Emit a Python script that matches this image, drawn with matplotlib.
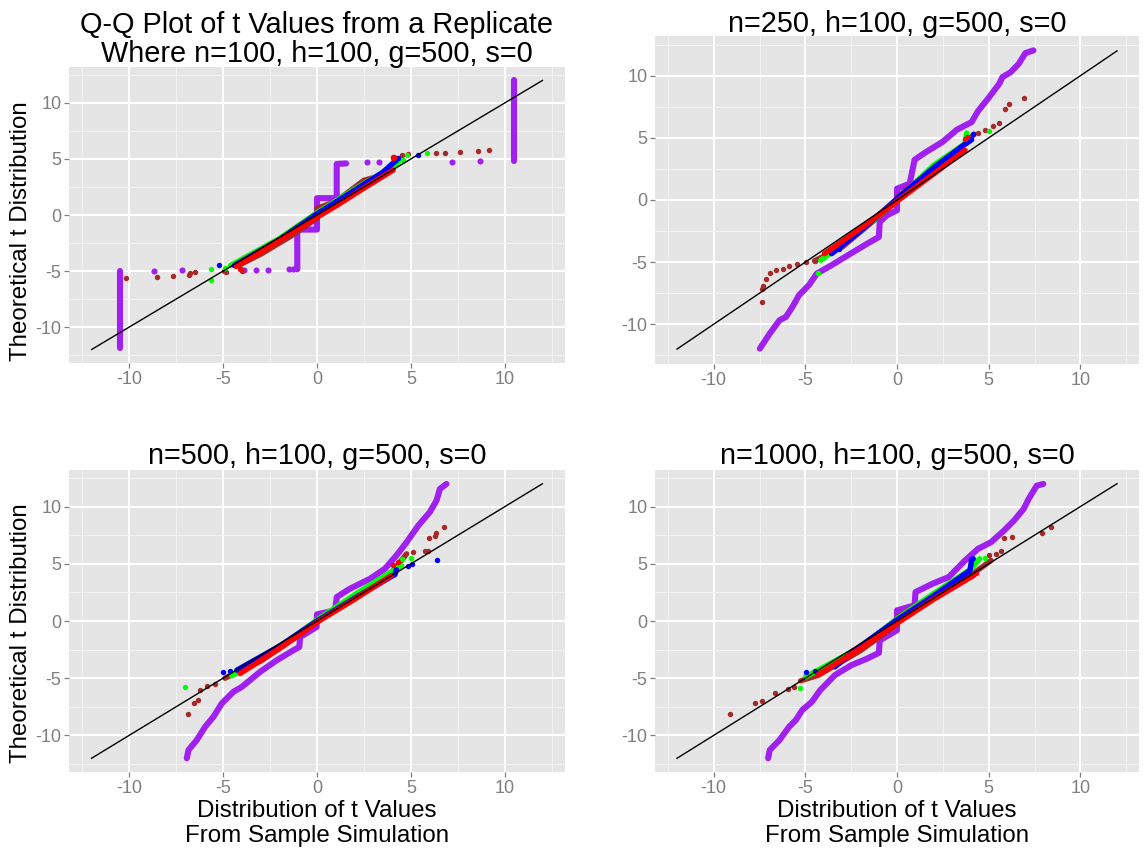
import matplotlib
matplotlib.use("Agg")
import matplotlib.pyplot as plt

plt.rcParams['font.family'] = ['Liberation Sans', 'DejaVu Sans']

W, H = 1146, 850

# ---------------- data ----------------
TITLES = [["Q-Q Plot of t Values from a Replicate", "Where n=100, h=100, g=500, s=0"],
          ["n=250, h=100, g=500, s=0"],
          ["n=500, h=100, g=500, s=0"],
          ["n=1000, h=100, g=500, s=0"]]
XLABEL = ["Distribution of t Values", "From Sample Simulation"]
YLABEL = "Theoretical t Distribution"
TICKS = [-10, -5, 0, 5, 10]
DIAG = [-12, 12]

# panel 1 (n=100)
P1_PURPLE_LINE = [(-10.46, -11.9), (-10.46, -4.99), None,
                  (-1.05, -4.84), (-1.05, -1.3), (0.0, -1.3), (0.0, 1.5), (1.05, 1.5),
                  (1.05, 4.55), (1.55, 4.6), None,
                  (10.48, 4.84), (10.48, 12.0)]
P1_PURPLE_PTS = [(-8.65, -4.97), (-7.16, -4.9), (-3.87, -4.9), (-3.26, -4.9),
                 (-2.59, -4.9), (-1.47, -4.84), (-1.3, -4.84), (2.64, 4.69),
                 (3.3, 4.69), (7.2, 4.75), (8.7, 4.84)]
P1_BROWN_LINE = [(-4.3, -4.6), (-3.0, -3.5), (-1.5, -2.0), (0.0, -0.3), (0.0, 0.6),
                 (1.0, 1.2), (2.5, 3.1), (3.4, 3.5), (4.0, 4.0)]
P1_BROWN_PTS = [(-10.18, -5.63), (-8.53, -5.55), (-7.64, -5.4), (-6.83, -5.34),
                (-6.76, -5.13), (-6.49, -5.07), (-4.84, -5.04), (-4.95, -4.98),
                (-4.0, -4.99), (-4.1, -4.7), (4.06, 5.19), (4.5, 5.34), (4.86, 5.4),
                (6.33, 5.49), (6.8, 5.55), (7.6, 5.66), (8.55, 5.69), (9.15, 5.78)]
P1_GREEN_LINE = [(-4.6, -4.5), (-2.0, -2.1), (0.0, 0.2), (2.0, 2.3), (4.2, 4.5), (4.4, 4.9)]
P1_GREEN_PTS = [(-5.66, -5.81), (-5.66, -4.78), (-4.89, -4.75), (4.6, 4.9),
                (4.77, 5.34), (5.83, 5.55)]
P1_BLUE_LINE = [(-4.4, -4.5), (-2.0, -2.2), (0.0, 0.1), (2.0, 2.2), (3.5, 3.8), (4.3, 5.0)]
P1_BLUE_PTS = [(-5.23, -4.42), (4.33, 5.04), (5.39, 5.34)]
P1_RED_LINE = [(-4.3, -4.5), (-3.0, -3.3), (-1.0, -1.2), (0.0, -0.2), (1.0, 0.8),
               (2.5, 2.4), (4.05, 4.0)]
P1_RED_PTS = [(-4.1, -4.78), (4.06, 5.04), (4.1, 5.2)]

# panel 2 (n=250)
P2_PURPLE_LINE = [(-7.48, -11.96), (-6.94, -10.75), (-6.41, -9.68), (-6.06, -9.41),
                  (-5.7, -8.6), (-5.35, -7.67), (-4.81, -6.86), (-4.37, -5.92),
                  (-3.57, -5.25), (-2.68, -4.45), (-1.62, -3.51), (-0.99, -2.98),
                  (-0.94, -1.77), (-0.55, -1.23), (0.0, -0.83), (0.0, 0.91),
                  (0.69, 1.31), (0.96, 3.24), (1.58, 3.86), (2.47, 4.66),
                  (3.27, 5.66), (4.07, 6.27), (4.42, 7.16), (4.96, 8.15),
                  (5.58, 9.36), (5.75, 9.89), (6.2, 10.29), (6.64, 10.96),
                  (7.0, 11.82), (7.44, 12.04)]
P2_PURPLE_PTS = []
P2_BROWN_LINE = [(-4.5, -4.9), (-3.0, -3.8), (0.0, -0.1), (0.0, 0.2), (2.0, 2.6),
                 (3.7, 4.5), (4.2, 5.3)]
P2_BROWN_PTS = [(-7.39, -8.2), (-7.39, -7.13), (-7.3, -6.94), (-7.16, -6.33),
                (-6.94, -5.87), (-6.59, -5.66), (-6.23, -5.52), (-5.88, -5.34),
                (-5.44, -5.17), (-4.99, -4.99), (-4.46, -4.91), (4.42, 5.39),
                (4.78, 5.6), (5.22, 5.92), (5.58, 6.19), (5.88, 7.35), (6.11, 7.75),
                (6.95, 8.23)]
P2_GREEN_LINE = [(-4.16, -4.85), (-2.0, -2.5), (0.0, 0.0), (2.0, 2.8), (3.71, 4.53), (3.8, 5.39)]
P2_GREEN_PTS = [(-4.33, -5.84), (5.04, 5.55)]
P2_BLUE_LINE = [(-3.57, -4.32), (-2.0, -2.5), (0.0, 0.1), (2.0, 2.6), (3.62, 4.4), (4.07, 4.85)]
P2_BLUE_PTS = [(-3.18, -3.91), (4.16, 5.34)]
P2_RED_LINE = [(-3.96, -4.32), (-2.0, -2.3), (0.0, -0.1), (2.0, 2.1), (3.71, 4.0)]
P2_RED_PTS = [(3.71, 4.93), (3.8, 5.1)]

# panel 3 (n=500)
P3_PURPLE_LINE = [(-6.93, -12.0), (-6.84, -11.28), (-6.4, -10.41), (-5.95, -9.24),
                  (-5.51, -8.37), (-5.07, -7.21), (-4.45, -6.19), (-4.0, -5.76),
                  (-3.03, -4.45), (-2.14, -3.43), (-1.26, -2.56), (-0.94, -2.27),
                  (-0.9, -1.4), (-0.02, -0.52), (0.0, 0.58), (0.96, 0.93),
                  (1.05, 2.09), (1.75, 2.82), (2.82, 3.69), (3.61, 4.56),
                  (4.23, 5.73), (4.77, 6.89), (5.39, 8.34), (6.0, 9.51),
                  (6.36, 10.52), (6.54, 11.54), (6.89, 11.98)]
P3_PURPLE_PTS = []
P3_BROWN_LINE = [(-4.9, -5.0), (-3.0, -3.5), (-1.0, -1.3), (0.0, -0.1), (2.0, 2.2),
                 (4.0, 4.3), (4.77, 5.87)]
P3_BROWN_PTS = [(-6.87, -8.17), (-6.57, -7.21), (-6.31, -6.92), (-6.25, -6.05),
                (-5.86, -5.7), (-5.42, -5.47), (5.12, 6.02), (5.74, 6.16),
                (5.92, 6.16), (5.97, 7.27), (6.27, 7.41), (6.36, 7.7), (6.75, 8.2)]
P3_GREEN_LINE = [(-4.53, -4.8), (-2.0, -2.3), (0.0, 0.1), (2.0, 2.3), (4.5, 4.85)]
P3_GREEN_PTS = [(-7.02, -5.81), (4.5, 5.44), (4.98, 5.52)]
P3_BLUE_LINE = [(-4.27, -4.3), (-2.0, -2.2), (0.0, 0.0), (2.0, 2.0), (4.15, 4.07), (4.23, 4.48)]
P3_BLUE_PTS = [(-5.01, -4.45), (-4.62, -4.39), (4.85, 4.85), (5.08, 5.0), (6.39, 5.35)]
P3_RED_LINE = [(-4.09, -4.59), (-2.0, -2.4), (0.0, -0.1), (2.0, 1.9), (3.97, 3.98)]
P3_RED_PTS = [(4.06, 4.91), (4.32, 5.2)]

# panel 4 (n=1000)
P4_PURPLE_LINE = [(-7.03, -12.0), (-6.94, -11.28), (-6.41, -10.41), (-5.88, -9.24),
                  (-5.52, -8.66), (-5.17, -7.79), (-4.64, -7.06), (-4.19, -6.05),
                  (-3.39, -4.74), (-2.5, -3.87), (-1.62, -3.28), (-0.99, -2.79),
                  (-0.94, -1.69), (0.0, -0.81), (0.0, 0.93), (0.96, 1.37),
                  (1.01, 2.53), (1.94, 3.26), (2.82, 3.84), (3.71, 5.29),
                  (4.42, 6.31), (5.13, 6.89), (5.84, 7.91), (6.38, 8.78),
                  (6.91, 9.8), (7.18, 10.67), (7.62, 11.83), (7.98, 11.98)]
P4_PURPLE_PTS = []
P4_BROWN_LINE = [(-5.26, -5.23), (-4.3, -4.75), (-2.0, -2.6), (0.0, -0.3), (0.0, 0.3),
                 (2.0, 2.3), (4.2, 4.2), (5.13, 5.29)]
P4_BROWN_PTS = [(-9.13, -8.17), (-7.74, -7.21), (-7.37, -6.98), (-6.68, -6.28),
                (-5.97, -5.96), (-5.61, -5.76), (5.04, 5.73), (5.4, 5.87),
                (5.67, 6.16), (5.84, 7.27), (6.25, 7.38), (7.89, 7.7), (8.38, 8.2)]
P4_GREEN_LINE = [(-4.99, -4.88), (-2.0, -2.3), (0.0, 0.2), (2.0, 2.4), (4.0, 4.5), (4.51, 5.44)]
P4_GREEN_PTS = [(-5.31, -5.84), (4.78, 5.52)]
P4_BLUE_LINE = [(-3.39, -4.01), (-2.0, -2.2), (0.0, 0.1), (2.0, 2.2), (3.98, 4.42),
                (4.07, 5.35), (4.16, 5.44)]
P4_BLUE_PTS = [(-4.99, -4.45), (-4.46, -4.39)]
P4_RED_LINE = [(-4.3, -4.7), (-2.0, -2.4), (0.0, -0.2), (2.0, 1.9), (4.2, 4.0)]
P4_RED_PTS = [(4.3, 4.2)]

COLORS = {"purple": "#A020F0", "brown": "#A52A2A", "green": "#00FF00",
          "blue": "#0000FF", "red": "#FF0000"}

PANELS = [
    [("purple", P1_PURPLE_LINE, P1_PURPLE_PTS), ("brown", P1_BROWN_LINE, P1_BROWN_PTS),
     ("green", P1_GREEN_LINE, P1_GREEN_PTS), ("blue", P1_BLUE_LINE, P1_BLUE_PTS),
     ("red", P1_RED_LINE, P1_RED_PTS)],
    [("purple", P2_PURPLE_LINE, P2_PURPLE_PTS), ("brown", P2_BROWN_LINE, P2_BROWN_PTS),
     ("green", P2_GREEN_LINE, P2_GREEN_PTS), ("blue", P2_BLUE_LINE, P2_BLUE_PTS),
     ("red", P2_RED_LINE, P2_RED_PTS)],
    [("purple", P3_PURPLE_LINE, P3_PURPLE_PTS), ("brown", P3_BROWN_LINE, P3_BROWN_PTS),
     ("green", P3_GREEN_LINE, P3_GREEN_PTS), ("blue", P3_BLUE_LINE, P3_BLUE_PTS),
     ("red", P3_RED_LINE, P3_RED_PTS)],
    [("purple", P4_PURPLE_LINE, P4_PURPLE_PTS), ("brown", P4_BROWN_LINE, P4_BROWN_PTS),
     ("green", P4_GREEN_LINE, P4_GREEN_PTS), ("blue", P4_BLUE_LINE, P4_BLUE_PTS),
     ("red", P4_RED_LINE, P4_RED_PTS)],
]

# ---------------- layout (pixels from top-left) ----------------
RECTS = [(69, 67, 565, 363), (655, 36, 1139, 364), (69, 470, 565, 772), (655, 470, 1139, 772)]
TITLE_BASE = [[33, 62], [31.5], [464], [464]]
XLAB_BASE = [817, 842]
YLAB_CENTER = {0: 231, 2: 633}


def rect(l, t, r, b):
    return [l / W, 1 - b / H, (r - l) / W, (b - t) / H]


def split(pts):
    segs, cur = [], []
    for p in pts:
        if p is None:
            if cur:
                segs.append(cur)
            cur = []
        else:
            cur.append(p)
    if cur:
        segs.append(cur)
    return segs


fig = plt.figure(figsize=(W / 100, H / 100), dpi=100)
GREY = "#7F7F7F"
for i, (r, series) in enumerate(zip(RECTS, PANELS)):
    ax = fig.add_axes(rect(*r))
    ax.set_facecolor("#E5E5E5")
    ax.set_xlim(-13.2, 13.2)
    ax.set_ylim(-13.2, 13.2)
    for s in ax.spines.values():
        s.set_visible(False)
    ax.set_xticks(TICKS)
    ax.set_yticks(TICKS)
    ax.set_xticklabels([str(t) for t in TICKS])
    ax.set_yticklabels([str(t) for t in TICKS])
    ax.set_xticks([-12.5, -7.5, -2.5, 2.5, 7.5, 12.5], minor=True)
    ax.set_yticks([-12.5, -7.5, -2.5, 2.5, 7.5, 12.5], minor=True)
    ax.grid(which="major", color="white", lw=1.45)
    ax.grid(which="minor", color="#F2F2F2", lw=0.75)
    ax.set_axisbelow(True)
    ax.tick_params(which="major", length=3.3, width=0.9, color=GREY, labelcolor=GREY,
                   labelsize=13, pad=2.2)
    ax.tick_params(which="minor", length=0)
    for name, line, pts in series:
        c = COLORS[name]
        lw = 4.4 if name == "purple" else 3.9
        for seg in split(line):
            ax.plot([p[0] for p in seg], [p[1] for p in seg], color=c, lw=lw,
                    solid_capstyle="round", solid_joinstyle="round", zorder=3)
        if pts:
            ax.scatter([p[0] for p in pts], [p[1] for p in pts], s=(lw * 1.0) ** 2,
                       color=c, lw=0, zorder=3)
    ax.plot(DIAG, DIAG, color="black", lw=1.0, zorder=5)

    cx = (r[0] + r[2]) / 2 / W
    for txt, yb in zip(TITLES[i], TITLE_BASE[i]):
        fig.text(cx, 1 - yb / H, txt, ha="center", va="baseline", fontsize=20.8)
    if i in YLAB_CENTER:
        fig.text(27 / W, 1 - YLAB_CENTER[i] / H, YLABEL, rotation=90,
                 rotation_mode="anchor", ha="center", va="baseline", fontsize=17.4)
    if i in (2, 3):
        for txt, yb in zip(XLABEL, XLAB_BASE):
            fig.text(cx, 1 - yb / H, txt, ha="center", va="baseline", fontsize=17.4)

fig.savefig("out.png", dpi=100, facecolor="white")
